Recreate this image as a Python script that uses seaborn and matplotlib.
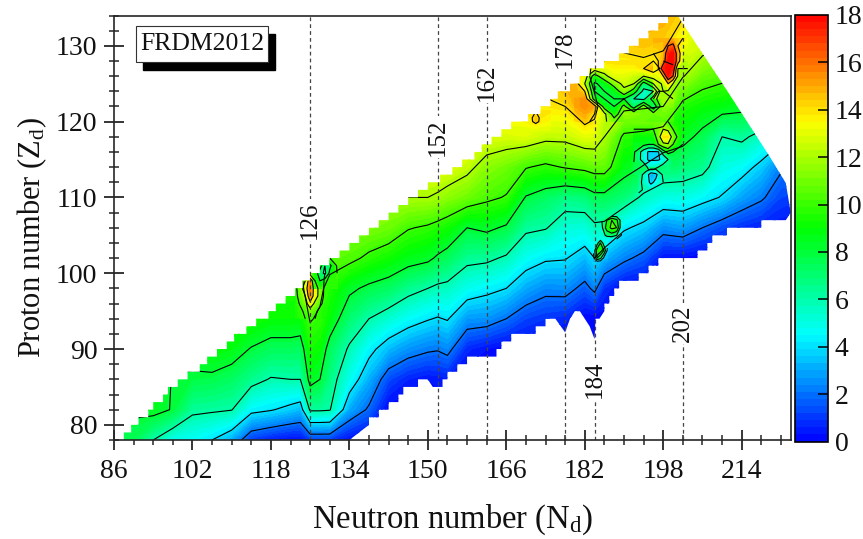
import numpy as np
import seaborn as sns
import matplotlib.pyplot as plt
from matplotlib.path import Path
from matplotlib.patches import Rectangle

# table: Q value at every 4th Z, mostly every 4th N
z_rows = [78, 82, 86, 90, 94, 98, 102, 106, 110, 114, 118, 122, 126, 130, 134]
n_cols = [86, 90, 94, 98, 102, 106, 110, 114, 118, 122, 124, 126, 128, 130, 134, 138, 142, 146, 150, 152, 154,
          158, 162, 166, 170, 174, 178, 182, 184, 186, 190, 194, 198, 202, 206, 210, 214, 218, 222, 226]

q_n086 = [7.5, 8.0, 8.5, 9, 9, 9, 9, 9, 9, 9, 9, 9, 9, 9, 9]
q_n090 = [7.5, 8.2, 8.8, 9, 9, 9, 9, 9, 9, 9, 9, 9, 9, 9, 9]
q_n094 = [6.0, 8.5, 9.0, 9, 9, 9, 9, 9, 9, 9, 9, 9, 9, 9, 9]
q_n098 = [4.8, 7.9, 7.9, 8.5, 9, 9, 9, 9, 9, 9, 9, 9, 9, 9, 9]
q_n102 = [4.6, 6.3, 7.8, 8.5, 9, 9, 9, 9, 9, 9, 9, 9, 9, 9, 9]
q_n106 = [4.0, 6.2, 7.7, 9.0, 9.3, 9.3, 9.3, 9.3, 9.3, 9.3, 9.3, 9.3, 9.3, 9.3, 9.3]
q_n110 = [3.0, 6.05, 7.3, 8.7, 9.5, 9.5, 9.5, 9.5, 9.5, 9.5, 9.5, 9.5, 9.5, 9.5, 9.5]
q_n114 = [1.0, 4.4, 6.5, 7.9, 9.4, 9.6, 9.6, 9.6, 9.6, 9.6, 9.6, 9.6, 9.6, 9.6, 9.6]
q_n118 = [0.5, 4.1, 5.9, 7.4, 9.0, 9.5, 9.5, 9.6, 9.6, 9.6, 9.6, 9.6, 9.6, 9.6, 9.6]
q_n122 = [0.2, 3.6, 6.0, 7.4, 9.0, 9.5, 10, 10, 10, 10, 10, 10, 10, 10, 10]
q_n124 = [0.2, 3.3, 6.0, 7.3, 8.9, 9.5, 10, 10, 10, 10, 10, 10, 10, 10, 10]
q_n126 = [1.0, 6.2, 8.5, 9.3, 10.1, 11, 11.5, 11.5, 11.5, 11.5, 11.5, 11.5, 11.5, 11.5, 11.5]
q_n128 = [1.0, 6.2, 8.0, 9.0, 9.8, 10.3, 11, 11, 11, 11, 11, 11, 11, 11, 11]
q_n130 = [1.0, 6.1, 6.7, 7.4, 8.9, 9.5, 10.6, 11, 11, 11, 11, 11, 11, 11, 11]
q_n134 = [0.2, 3.0, 4.8, 5.8, 7.0, 8.3, 10.4, 11, 11.5, 11.5, 11.5, 11.5, 11.5, 11.5, 11.5]
q_n138 = [0, 1.8, 3.1, 4.4, 6.0, 7.7, 9.7, 11.2, 11.5, 12, 12, 12, 12, 12, 12]
q_n142 = [0, 0, 1.3, 3.3, 5.3, 7.3, 9.2, 10.9, 11.8, 12, 12, 12, 12, 12, 12]
q_n146 = [0, 0, 0.6, 2.6, 4.6, 6.5, 8.6, 10.1, 12, 12.5, 12.5, 12.5, 12.5, 12.5, 12.5]
q_n150 = [0, 0, 0.3, 2.2, 4.1, 6.0, 8.3, 9.8, 12, 13, 13, 13, 13, 13, 13]
q_n152 = [0, 0, 0.4, 2.1, 3.9, 5.7, 7.8, 9.5, 11.8, 13, 13.3, 13.3, 13.3, 13.3, 13.3]
q_n154 = [0, 0, 0.5, 2.4, 4.1, 5.6, 7.4, 9.2, 11.4, 13, 13.5, 13.5, 13.5, 13.5, 13.5]
q_n158 = [0, 0, 0, 0.7, 2.7, 4.8, 6.4, 8.0, 10.9, 12.4, 13.5, 14, 14, 14, 14]
q_n162 = [0, 0, 0, 0.3, 2.6, 4.4, 6.3, 8.3, 10.3, 11.4, 12.9, 13.5, 14, 14, 14]
q_n166 = [0, 0, 0, 0, 2.0, 4.0, 5.8, 7.8, 9.9, 10.9, 12.8, 13.8, 14, 14, 14]
q_n170 = [0, 0, 0, 0, 1.2, 3.0, 4.7, 6.3, 7.9, 10.1, 12.9, 13.8, 14.2, 14.5, 14.5]
q_n174 = [0, 0, 0, 0, 0.9, 2.4, 4.2, 6.1, 7.3, 9.7, 12.4, 13.8, 14.5, 14.5, 14.5]
q_n178 = [0, 0, 0, 0, 0.7, 2.5, 4.1, 5.2, 6.7, 10.1, 12.4, 14, 15, 15, 15]
q_n182 = [0, 0, 0, 0, 0, 1.6, 3.3, 5.1, 6.9, 10.4, 13, 15.5, 15, 15, 15]
q_n184 = [0, 0, 0, 0, 0, 2.3, 4.0, 5.7, 7.5, 10.7, 12.9, 14.8, 13, 14, 14]
q_n186 = [0, 0, 0, 0, 0, 0.9, 3.2, 5.6, 7.5, 10.7, 12, 12.5, 13.5, 14, 14]
q_n190 = [0, 0, 0, 0, 0, 0, 2.3, 4.2, 6.9, 8.6, 9.7, 12.4, 13, 14.3, 14.5]
q_n194 = [0, 0, 0, 0, 0, 0, 1.6, 3.6, 5.7, 7.9, 9.5, 12.2, 13.2, 14.5, 15]
q_n198 = [0, 0, 0, 0, 0, 0, 0.3, 2.5, 5.0, 7.1, 9.0, 12, 13, 14.2, 15]
q_n202 = [0, 0, 0, 0, 0, 0, 0.2, 2.8, 5.0, 6.9, 8.5, 9.5, 12.1, 13, 14.1]
q_n206 = [0, 0, 0, 0, 0, 0, 0, 2.0, 4.5, 6.5, 7.6, 9.0, 10.8, 12.6, 13]
q_n210 = [0, 0, 0, 0, 0, 0, 0, 1.3, 3.9, 5.0, 6.0, 8.7, 10.4, 12, 12.5]
q_n214 = [0, 0, 0, 0, 0, 0, 0, 0.8, 2.9, 4.6, 6.3, 8.4, 10, 11, 11]
q_n218 = [0, 0, 0, 0, 0, 0, 0, 0.5, 2.2, 3.6, 5.5, 8, 9, 10, 10]
q_n222 = [0, 0, 0, 0, 0, 0, 0, 0.3, 1.2, 2.2, 4.5, 7, 8, 9, 9]
q_n226 = [0, 0, 0, 0, 0, 0, 0, 0.2, 1.0, 2.0, 4.0, 6, 7, 8, 8]

q_table = np.column_stack([
    q_n086, q_n090, q_n094, q_n098, q_n102, q_n106, q_n110, q_n114, q_n118, q_n122, q_n124, q_n126, q_n128, q_n130,
    q_n134, q_n138, q_n142, q_n146, q_n150, q_n152, q_n154, q_n158, q_n162, q_n166, q_n170, q_n174, q_n178,
    q_n182, q_n184, q_n186, q_n190, q_n194, q_n198, q_n202, q_n206, q_n210, q_n214, q_n218, q_n222, q_n226])

# islands that are too small for the coarse table
isl_a_n = [123, 125, 126, 127, 129]
isl_a_z = [94, 95, 96, 97, 98, 99, 100]
isl_a_q = [[9.3, 10, 10.1, 10, 9.2],
           [9.4, 10.2, 11, 10.2, 9.3],
           [9.4, 11, 13.5, 11.5, 9.4],
           [9.5, 12, 15.5, 13, 9.5],
           [9.5, 13, 15.8, 13, 9.6],
           [9.5, 12, 15.5, 12, 9.8],
           [9.5, 10, 11, 11, 10]]

isl_b_n = [126.5, 128, 129, 130, 131.5]
isl_b_z = [98, 99, 100, 101, 102]
isl_b_q = [[10, 9.9, 9.8, 9.8, 9.8],
           [10, 8, 9, 9.8, 9.9],
           [10, 7, 5.5, 8.5, 10],
           [10, 9, 6, 7.5, 10.2],
           [10, 10, 10, 10, 10.5]]

isl_c_n = [185.5, 186.5, 187.5, 188.5, 189.5]
isl_c_z = [104.5, 105, 106, 107, 107.5]
isl_c_q = [[4.7, 4.5, 4.3, 4, 3.7],
           [5, 6.5, 7, 6, 3.9],
           [5.6, 9, 10.5, 10, 4.4],
           [6.1, 8, 10, 8.5, 4.9],
           [6.3, 6.2, 6, 5.8, 5.2]]

isl_d_n = [183.8, 184.5, 185.2, 185.9, 186.6]
isl_d_z = [101.5, 102, 103, 104, 104.5]
isl_d_q = [[3.2, 3.2, 3.1, 3, 2.9],
           [3.5, 8, 6.5, 3.5, 3.2],
           [4.3, 9, 10, 8, 3.8],
           [4.7, 5, 8, 5, 4.4],
           [5, 4.9, 5, 5, 4.7]]

isl_e_n = [192, 194, 195, 196, 197, 198, 199, 200, 202]
isl_e_z = [113, 114, 115, 116, 117, 118, 119, 120]
isl_e_q = [[7.4, 7.2, 7, 7, 6.8, 6.7, 6.6, 6.6, 6.4],
           [7.8, 7.4, 5.5, 5.5, 6, 7, 6.8, 7.2, 6.9],
           [8.1, 5, 3.8, 3.8, 3.8, 4.5, 6, 7.6, 7.3],
           [8.3, 5, 3.8, 3.8, 3.8, 7, 8.6, 8, 7.6],
           [8.5, 8.5, 8, 8, 10, 11.5, 11.8, 10, 8],
           [9, 9, 9, 9, 11, 14, 14, 11, 8.5],
           [10, 10, 10, 10, 11, 12, 11.5, 10, 8.8],
           [11, 11, 11, 11, 11, 11, 10, 9.5, 9]]

isl_f_n = [193, 194.5, 195.5, 196.5, 198]
isl_f_z = [110, 111, 112, 113, 114]
isl_f_q = [[5.7, 5.5, 5.4, 5.3, 5],
           [6.2, 5.8, 5.5, 5.6, 5.6],
           [6.6, 5, 3.5, 4.5, 6],
           [7, 5, 3, 3.5, 6.4],
           [7.7, 7.3, 7, 7, 7.2]]

isl_g_n = [180, 182, 184, 186, 188, 190, 192, 194, 196, 198, 200]
isl_g_z = [120, 121, 122, 123, 124, 125, 126, 127, 128]
isl_g_q = [[14, 14.5, 13.5, 12.3, 11, 10.9, 10.8, 10.8, 10.6, 10.5, 10],
           [14.5, 15, 14, 12.5, 9, 11.5, 11.3, 11, 10.8, 11, 10.5],
           [15, 15.5, 15, 9, 8, 10.5, 7, 11, 6.5, 11.5, 11],
           [15, 15.5, 9, 8, 8, 8, 6, 5.5, 9, 12, 12],
           [15, 14, 8, 8, 8.5, 11.5, 9, 5.5, 6, 12, 12.5],
           [15, 12, 7.8, 8.5, 11, 12.5, 12, 7, 10, 12.5, 13],
           [14.5, 13, 9, 11.5, 13, 13, 12.5, 12, 13, 13, 13.2],
           [14.5, 14, 13, 13, 13.5, 13.5, 13.5, 14, 15, 13.5, 13.5],
           [15, 15, 14.5, 14, 14, 14, 14, 14, 14, 14, 14.5]]

isl_h_n = [196, 197, 198, 199, 200, 201, 202, 203]
isl_h_z = [123, 124, 125, 126, 127, 128, 129, 130, 131]
isl_h_q = [[12, 12, 12, 12, 11.8, 10.5, 10.3, 10.2],
           [12.2, 12, 12, 11.8, 11.5, 11, 10.8, 10.7],
           [12.6, 12.3, 12.2, 14, 12, 11.5, 11.4, 11.2],
           [13, 13, 14, 17.7, 16, 11.8, 11.8, 11.6],
           [13.5, 14, 17.5, 17.9, 17.5, 12, 12, 12],
           [13.5, 14, 15, 17.8, 17.9, 15, 12.2, 12.3],
           [14, 14.2, 14.5, 17.5, 17.9, 15, 12.8, 12.6],
           [14.5, 14.5, 14.5, 16, 16.5, 14, 13.2, 13],
           [15, 15, 14.8, 14.7, 14.6, 14.4, 14, 13.5]]

# tiny loop on the upper edge near N = 172
isl_i_n = [169, 171, 172, 173, 175]
isl_i_z = [118.5, 119.5, 120, 120.5, 121.5]
isl_i_q = [[12.9, 12.8, 12.8, 12.7, 12.7],
           [13.2, 13.4, 13.5, 13.3, 13.2],
           [13.4, 13.7, 14.5, 13.7, 13.4],
           [13.6, 13.8, 14.5, 13.8, 13.6],
           [13.8, 13.9, 13.9, 13.9, 13.9]]

islands = [(isl_a_n, isl_a_z, isl_a_q), (isl_b_n, isl_b_z, isl_b_q), (isl_c_n, isl_c_z, isl_c_q),
           (isl_d_n, isl_d_z, isl_d_q), (isl_e_n, isl_e_z, isl_e_q), (isl_f_n, isl_f_z, isl_f_q),
           (isl_g_n, isl_g_z, isl_g_q), (isl_h_n, isl_h_z, isl_h_q), (isl_i_n, isl_i_z, isl_i_q)]

# limits of the nuclei in the map
lower_n = [88, 134, 138, 138, 140, 140, 142, 142, 144, 144, 145, 145, 148, 148, 150, 151, 153, 153, 154, 154,
           156, 156, 158, 158, 164, 164, 165, 165, 167, 167, 172, 172, 174, 174, 176, 178, 179, 180, 181, 183,
           184, 184.2, 185, 186, 186, 187, 187, 188, 188, 189, 189, 193, 193, 195, 195, 197, 197, 205, 205,
           207, 207, 208, 208, 211, 211, 218, 218, 223, 224, 223, 219.5, 209.7, 202, 201]
lower_z = [78, 78, 80, 81, 81, 82, 82, 83, 83, 84, 84, 85, 85, 86, 86, 85, 85, 86, 86, 87,
           87, 88, 88, 89, 89, 90, 90, 91, 91, 92, 92, 93, 93, 94, 94, 92.2, 94, 95, 95, 93,
           91.3, 94, 94, 95, 96, 96, 97, 97, 98, 98, 99, 99, 100, 100, 101, 101, 102, 102, 103,
           103, 104, 104, 105, 105, 106, 106, 107, 107, 108, 111.9, 115.6, 125.4, 132.9, 134]
upper_z = list(range(78, 134))
upper_n = [88, 89.5, 91, 93, 94, 96, 97, 99, 101, 103.5, 105, 107, 109, 110.5, 113, 115, 117.5, 119, 121, 123,
           124.5, 126, 128, 130, 132, 134, 136, 138, 140, 142, 144, 146, 148, 150, 152.5, 155, 157, 159.5,
           161, 163, 165, 167, 170.5, 173, 175, 176.5, 179, 181, 183, 186, 189, 191, 193, 195, 197, 199]

magic_n = [126, 152, 162, 178, 184, 202]
magic_label_z = [107, 118, 125.2, 129.5, 86, 93.4]
band_step = 0.3
line_levels = [2, 4, 6, 8, 10, 12, 14, 16]
cbar_ticks = [0, 2, 4, 6, 8, 10, 12, 14, 16, 18]

sns.set_theme(style='ticks', rc={'axes.linewidth': 1.2})
plt.rcParams['font.family'] = ['Liberation Serif', 'DejaVu Serif']
plt.rcParams['mathtext.fontset'] = 'custom'
plt.rcParams['mathtext.rm'] = 'Liberation Serif'
plt.rcParams['mathtext.default'] = 'rm'

fig = plt.figure(figsize=(8.63, 5.39), dpi=100)
ax = fig.add_axes([114 / 863, 1 - 440 / 539, 676.7 / 863, 424.5 / 539])
cax = fig.add_axes([795 / 863, 1 - 441.5 / 539, 32.7 / 863, 426.5 / 539])

cmap = sns.blend_palette(['#0000ff', '#00ffff', '#00ff00', '#ffff00', '#ff0000'], n_colors=256, as_cmap=True)
band_levels = np.arange(0, 18 + band_step / 2, band_step)

# outline of the nuclei, the left side goes down in steps of one Z
outline = list(zip(lower_n, lower_z))
for n, z in zip(upper_n[::-1], upper_z[::-1]):
    outline.append((n, z + 1))
    outline.append((n, z))
outline_path = Path(outline + [outline[0]])

filled = ax.contourf(n_cols, z_rows, q_table, levels=band_levels, cmap=cmap, vmin=0, vmax=18)
lines = ax.contour(n_cols, z_rows, q_table, levels=line_levels, colors='black', linewidths=0.8)
filled.set_clip_path(outline_path, ax.transData)
lines.set_clip_path(outline_path, ax.transData)

for isl_n, isl_z, isl_q in islands:
    f = ax.contourf(isl_n, isl_z, isl_q, levels=band_levels, cmap=cmap, vmin=0, vmax=18)
    c = ax.contour(isl_n, isl_z, isl_q, levels=line_levels, colors='black', linewidths=0.8)
    f.set_clip_path(outline_path, ax.transData)
    c.set_clip_path(outline_path, ax.transData)

for n, label_z in zip(magic_n, magic_label_z):
    ax.axvline(n, color='#444444', lw=0.9, ls=(0, (3, 2.5)), zorder=3)
    ax.text(n, label_z, str(n), rotation=90, ha='center', va='center', fontsize=18, color='#111111', zorder=4,
            bbox=dict(fc='white', ec='none', pad=1.5))

ax.set_xlim(86, 224)
ax.set_ylim(78, 134)
ax.set_xticks(np.arange(86, 224, 16))
ax.set_xticks(np.arange(86, 224, 4), minor=True)
ax.set_yticks(np.arange(80, 134, 10))
ax.set_yticks(np.arange(78, 135, 2), minor=True)
ax.tick_params(which='major', direction='inout', length=14, width=1.1, labelsize=20, color='black', labelcolor='#111111')
ax.tick_params(which='minor', direction='inout', length=6.5, width=1.1)
ax.tick_params(axis='x', which='major', pad=7)
ax.tick_params(axis='y', which='major', pad=5)
ax.set_xlabel(r'Neutron number (N$_{\mathrm{d}}$)', fontsize=23.5, color='#111111', labelpad=13)
ax.set_ylabel(r'Proton number (Z$_{\mathrm{d}}$)', fontsize=22, color='#111111', labelpad=5, y=0.478)
for side in ax.spines.values():
    side.set_zorder(5)

# model name in a box with a hard shadow
ax.add_patch(Rectangle((0.0429, 0.8716), 0.195, 0.0848, transform=ax.transAxes, fc='black', ec='black', zorder=6))
ax.add_patch(Rectangle((0.0325, 0.8905), 0.195, 0.0848, transform=ax.transAxes, fc='white', ec='#333333', lw=0.8, zorder=7))
ax.text(0.13, 0.9325, 'FRDM2012', transform=ax.transAxes, ha='center', va='center', fontsize=18.5, color='#111111', zorder=8)

cb = fig.colorbar(filled, cax=cax, ticks=cbar_ticks)
cb.outline.set_linewidth(1.2)
cb.outline.set_edgecolor('black')
cb.ax.tick_params(length=0, labelsize=20, pad=5, labelcolor='#111111')
cb.ax.hlines(cbar_ticks[1:-1], 0.7, 1, transform=cb.ax.get_yaxis_transform(), colors='black', lw=1.1)
cb.ax.set_ylim(0, 18)

plt.savefig('out.png', dpi=100)
